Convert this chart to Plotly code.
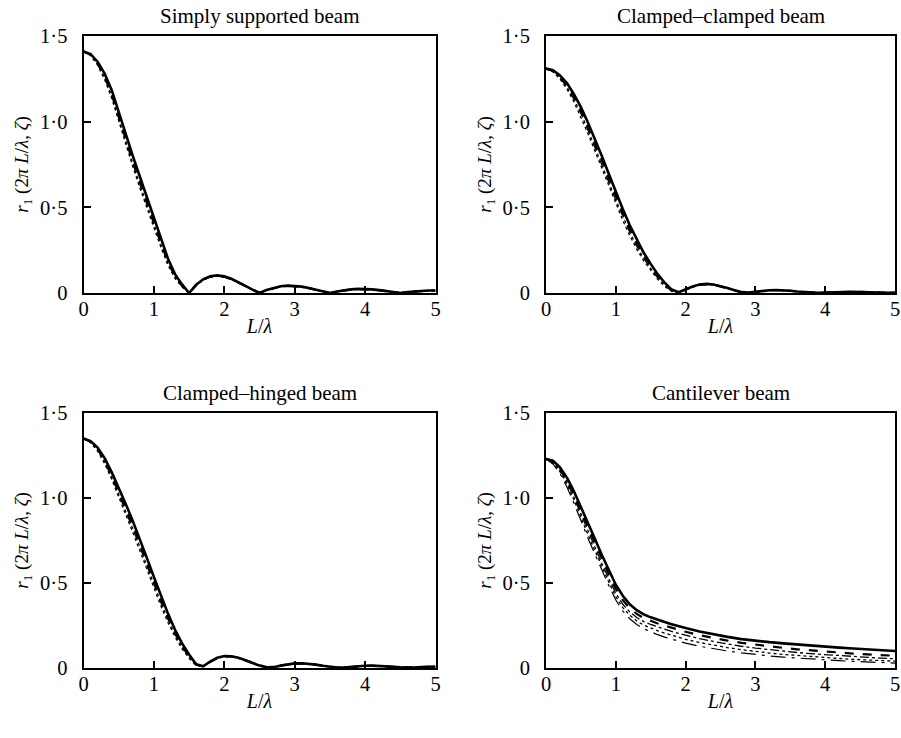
import plotly.graph_objects as go

# ---------------- data ----------------
X_SS = [round(i * 0.1, 1) for i in range(51)]
X_CC = X_SS
X_CH = X_SS
X_CANT = [round(i * 0.1, 1) for i in range(21)] + [2.2, 2.4, 2.6, 2.8, 3.0, 3.2, 3.4, 3.6, 3.8, 4.0, 4.2, 4.4, 4.6, 4.8, 5.0]

SS_A = [1.41, 1.395, 1.35, 1.28, 1.185, 1.055, 0.925, 0.80, 0.68, 0.56, 0.44, 0.32, 0.20, 0.11, 0.05, 0.0,
        0.048, 0.08, 0.098, 0.103, 0.097, 0.083, 0.064, 0.042, 0.02, 0.0, 0.017, 0.03, 0.039, 0.043, 0.042,
        0.037, 0.029, 0.02, 0.01, 0.0, 0.009, 0.016, 0.021, 0.024, 0.024, 0.021, 0.017, 0.012, 0.006, 0.0,
        0.006, 0.01, 0.013, 0.015, 0.015]
SS_B = [1.41, 1.392, 1.343, 1.268, 1.168, 1.035, 0.902, 0.776, 0.655, 0.535, 0.417, 0.300, 0.186, 0.100, 0.044, 0.0,
        0.046, 0.078, 0.096, 0.101, 0.095, 0.081, 0.062, 0.041, 0.019, 0.0, 0.016, 0.029, 0.038, 0.042, 0.041,
        0.036, 0.028, 0.019, 0.009, 0.0, 0.008, 0.015, 0.020, 0.023, 0.023, 0.020, 0.016, 0.011, 0.006, 0.0,
        0.005, 0.009, 0.012, 0.014, 0.014]
SS_C = [1.41, 1.389, 1.336, 1.256, 1.152, 1.018, 0.884, 0.756, 0.634, 0.514, 0.397, 0.283, 0.174, 0.092, 0.039, 0.0,
        0.045, 0.076, 0.094, 0.099, 0.093, 0.080, 0.061, 0.040, 0.019, 0.0, 0.016, 0.029, 0.037, 0.041, 0.040,
        0.035, 0.028, 0.019, 0.009, 0.0, 0.008, 0.015, 0.020, 0.022, 0.022, 0.020, 0.016, 0.011, 0.005, 0.0,
        0.005, 0.009, 0.012, 0.014, 0.014]
SS_D = [1.41, 1.386, 1.33, 1.246, 1.138, 1.0, 0.866, 0.738, 0.614, 0.494, 0.378, 0.266, 0.162, 0.085, 0.035, 0.0,
        0.044, 0.075, 0.093, 0.098, 0.092, 0.079, 0.060, 0.039, 0.018, 0.0, 0.015, 0.028, 0.036, 0.040, 0.039,
        0.034, 0.027, 0.018, 0.009, 0.0, 0.008, 0.014, 0.019, 0.022, 0.022, 0.019, 0.015, 0.010, 0.005, 0.0,
        0.005, 0.009, 0.012, 0.013, 0.014]

CC_A = [1.31, 1.30, 1.27, 1.225, 1.16, 1.085, 0.995, 0.90, 0.80, 0.695, 0.59, 0.49, 0.395, 0.31, 0.235, 0.17,
        0.11, 0.06, 0.02, 0.004, 0.022, 0.038, 0.049, 0.053, 0.05, 0.041, 0.029, 0.016, 0.005, 0.002, 0.008,
        0.013, 0.016, 0.017, 0.016, 0.013, 0.009, 0.005, 0.002, 0.001, 0.003, 0.005, 0.007, 0.008, 0.007,
        0.006, 0.004, 0.002, 0.001, 0.001, 0.002]
CC_B = [1.31, 1.297, 1.263, 1.213, 1.145, 1.065, 0.973, 0.876, 0.775, 0.670, 0.566, 0.467, 0.374, 0.291, 0.219,
        0.156, 0.099, 0.052, 0.016, 0.003, 0.021, 0.037, 0.048, 0.052, 0.049, 0.040, 0.028, 0.016, 0.005, 0.002,
        0.008, 0.013, 0.016, 0.017, 0.016, 0.013, 0.009, 0.005, 0.002, 0.001, 0.003, 0.005, 0.007, 0.008, 0.007,
        0.006, 0.004, 0.002, 0.001, 0.001, 0.002]
CC_C = [1.31, 1.294, 1.256, 1.202, 1.131, 1.047, 0.952, 0.853, 0.751, 0.646, 0.543, 0.445, 0.354, 0.273, 0.203,
        0.143, 0.089, 0.045, 0.012, 0.003, 0.020, 0.036, 0.047, 0.051, 0.048, 0.040, 0.028, 0.015, 0.005, 0.002,
        0.008, 0.012, 0.015, 0.016, 0.015, 0.012, 0.009, 0.005, 0.002, 0.001, 0.003, 0.005, 0.006, 0.007, 0.007,
        0.006, 0.004, 0.002, 0.001, 0.001, 0.002]
CC_D = [1.31, 1.291, 1.249, 1.19, 1.116, 1.028, 0.931, 0.830, 0.727, 0.622, 0.52, 0.424, 0.335, 0.256, 0.188,
        0.131, 0.080, 0.039, 0.009, 0.003, 0.019, 0.035, 0.046, 0.050, 0.047, 0.039, 0.027, 0.015, 0.005, 0.002,
        0.007, 0.012, 0.015, 0.016, 0.015, 0.012, 0.008, 0.005, 0.002, 0.001, 0.003, 0.005, 0.006, 0.007, 0.007,
        0.005, 0.004, 0.002, 0.001, 0.001, 0.002]

CH_A = [1.35, 1.335, 1.297, 1.235, 1.152, 1.06, 0.965, 0.865, 0.76, 0.648, 0.535, 0.425, 0.32, 0.225, 0.145, 0.08,
        0.022, 0.01, 0.038, 0.06, 0.07, 0.069, 0.06, 0.046, 0.029, 0.014, 0.004, 0.005, 0.014, 0.022, 0.027,
        0.028, 0.026, 0.02, 0.013, 0.006, 0.002, 0.003, 0.007, 0.011, 0.013, 0.014, 0.013, 0.01, 0.007, 0.004,
        0.002, 0.003, 0.005, 0.007, 0.008]
CH_B = [1.35, 1.332, 1.29, 1.224, 1.138, 1.042, 0.944, 0.842, 0.736, 0.624, 0.512, 0.404, 0.302, 0.211, 0.134,
        0.072, 0.020, 0.01, 0.037, 0.059, 0.069, 0.068, 0.059, 0.045, 0.029, 0.014, 0.004, 0.005, 0.014, 0.022,
        0.026, 0.027, 0.025, 0.019, 0.012, 0.006, 0.002, 0.003, 0.007, 0.011, 0.013, 0.013, 0.012, 0.01, 0.007,
        0.004, 0.002, 0.003, 0.005, 0.007, 0.008]
CH_C = [1.35, 1.329, 1.283, 1.213, 1.124, 1.025, 0.924, 0.82, 0.713, 0.601, 0.49, 0.384, 0.285, 0.197, 0.123,
        0.064, 0.018, 0.011, 0.036, 0.058, 0.068, 0.067, 0.058, 0.044, 0.028, 0.013, 0.004, 0.005, 0.013, 0.021,
        0.026, 0.027, 0.025, 0.019, 0.012, 0.006, 0.002, 0.003, 0.007, 0.01, 0.012, 0.013, 0.012, 0.01, 0.007,
        0.004, 0.002, 0.003, 0.005, 0.006, 0.007]
CH_D = [1.35, 1.326, 1.276, 1.202, 1.11, 1.008, 0.904, 0.798, 0.69, 0.578, 0.468, 0.364, 0.268, 0.183, 0.113,
        0.057, 0.014, 0.012, 0.035, 0.057, 0.067, 0.066, 0.057, 0.044, 0.028, 0.013, 0.004, 0.005, 0.013, 0.021,
        0.025, 0.026, 0.024, 0.018, 0.012, 0.006, 0.002, 0.003, 0.006, 0.01, 0.012, 0.013, 0.012, 0.009, 0.007,
        0.004, 0.002, 0.003, 0.005, 0.006, 0.007]

CANT_A = [1.23, 1.22, 1.18, 1.12, 1.04, 0.95, 0.855, 0.76, 0.665, 0.575, 0.49, 0.425, 0.375, 0.34, 0.315, 0.298,
          0.283, 0.27, 0.258, 0.246, 0.235, 0.215, 0.198, 0.183, 0.17, 0.16, 0.152, 0.145, 0.138, 0.132, 0.126,
          0.12, 0.115, 0.11, 0.105, 0.1]
CANT_B = [1.23, 1.215, 1.17, 1.105, 1.02, 0.925, 0.83, 0.735, 0.64, 0.55, 0.465, 0.4, 0.352, 0.318, 0.294, 0.277,
          0.262, 0.249, 0.236, 0.224, 0.213, 0.193, 0.176, 0.161, 0.148, 0.137, 0.127, 0.118, 0.11, 0.103, 0.096,
          0.09, 0.085, 0.08, 0.076, 0.072]
CANT_C = [1.23, 1.21, 1.165, 1.095, 1.005, 0.905, 0.805, 0.71, 0.615, 0.525, 0.44, 0.375, 0.33, 0.297, 0.273, 0.256,
          0.241, 0.228, 0.215, 0.203, 0.192, 0.173, 0.156, 0.141, 0.128, 0.117, 0.107, 0.099, 0.091, 0.084, 0.078,
          0.072, 0.067, 0.062, 0.058, 0.054]
CANT_D = [1.23, 1.205, 1.155, 1.08, 0.99, 0.885, 0.785, 0.69, 0.595, 0.505, 0.42, 0.355, 0.31, 0.277, 0.252, 0.234,
          0.219, 0.205, 0.192, 0.18, 0.169, 0.15, 0.134, 0.12, 0.108, 0.097, 0.088, 0.08, 0.073, 0.067, 0.061,
          0.056, 0.051, 0.047, 0.043, 0.04]
CANT_E = [1.23, 1.2, 1.145, 1.065, 0.97, 0.865, 0.765, 0.67, 0.575, 0.485, 0.4, 0.335, 0.29, 0.256, 0.231, 0.212,
          0.196, 0.182, 0.169, 0.157, 0.146, 0.128, 0.113, 0.1, 0.089, 0.079, 0.071, 0.064, 0.058, 0.052, 0.047,
          0.043, 0.039, 0.035, 0.032, 0.029]

TITLES = ["Simply supported beam", "Clamped\u2013clamped beam", "Clamped\u2013hinged beam", "Cantilever beam"]
X_TICKS = [0, 1, 2, 3, 4, 5]
X_TICKTEXT = ["0", "1", "2", "3", "4", "5"]
Y_TICKS = [0, 0.5, 1.0, 1.5]
Y_TICKTEXT = ["0", "0\u00b75", "1\u00b70", "1\u00b75"]
X_TITLE = "<i>L</i>/<i>\u03bb</i>"
Y_TITLE = "<i>r</i><sub>1</sub> (2<i>\u03c0 L</i>/<i>\u03bb</i>, <i>\u03b6</i>)"

# ---------------- figure ----------------
W, H = 901, 738
FONT = "Liberation Serif, Times New Roman, serif"

panels = [
    (X_SS, [SS_A, SS_B, SS_C, SS_D]),
    (X_CC, [CC_A, CC_B, CC_C, CC_D]),
    (X_CH, [CH_A, CH_B, CH_C, CH_D]),
    (X_CANT, [CANT_A, CANT_B, CANT_C, CANT_D, CANT_E]),
]
styles = [
    dict(width=2.6, dash="solid"),
    dict(width=2.2, dash="dash"),
    dict(width=1.3, dash="dashdot"),
    dict(width=1.3, dash="dot"),
    dict(width=1.2, dash="longdashdot"),
]

# pixel geometry of the plot areas
xpix = [(83.5, 435.5), (546, 895)]
ypix = [(36, 293), (413, 668)]

fig = go.Figure()
annotations = []
layout = {}
for p, (xs, curves) in enumerate(panels):
    r, c = divmod(p, 2)
    idx = "" if p == 0 else str(p + 1)
    xa, ya = "x" + idx, "y" + idx
    for k, ys in enumerate(curves):
        fig.add_trace(go.Scatter(x=xs, y=ys, mode="lines", xaxis=xa, yaxis=ya,
                                 line=dict(color="black", **styles[k]), showlegend=False,
                                 hoverinfo="skip"))
    x0, x1 = xpix[c]
    y0, y1 = ypix[r]
    xdom = [x0 / W, x1 / W]
    ydom = [1 - y1 / H, 1 - y0 / H]
    common = dict(showline=True, linewidth=2, linecolor="black", mirror=True,
                  ticks="inside", ticklen=7, tickwidth=1.5, tickcolor="black",
                  showgrid=False, zeroline=False, automargin=False,
                  ticklabeloverflow="allow",
                  tickfont=dict(family=FONT, size=20.5, color="black"))
    layout["xaxis" + idx] = dict(common, domain=xdom, range=[0, 5], anchor=ya,
                                 tickvals=X_TICKS, ticktext=X_TICKTEXT, ticklabelstandoff=-4,
                                 title=dict(text=X_TITLE, standoff=0,
                                            font=dict(family=FONT, size=20, color="black")))
    layout["yaxis" + idx] = dict(common, domain=ydom, range=[0, 1.5], anchor=xa,
                                 tickvals=Y_TICKS, ticktext=Y_TICKTEXT, ticklabelstandoff=10,
                                 title=dict(text=Y_TITLE, standoff=6,
                                            font=dict(family=FONT, size=19, color="black")))
    annotations.append(dict(text=TITLES[p], xref="paper", yref="paper",
                            x=(x0 + x1) / 2 / W, y=1 - (y0 - 20) / H,
                            xanchor="center", yanchor="middle", showarrow=False,
                            font=dict(family=FONT, size=21, color="black")))

fig.update_layout(width=W, height=H, margin=dict(l=0, r=0, t=0, b=0),
                  paper_bgcolor="white", plot_bgcolor="white",
                  annotations=annotations, **layout)
fig.write_html("out.html")
